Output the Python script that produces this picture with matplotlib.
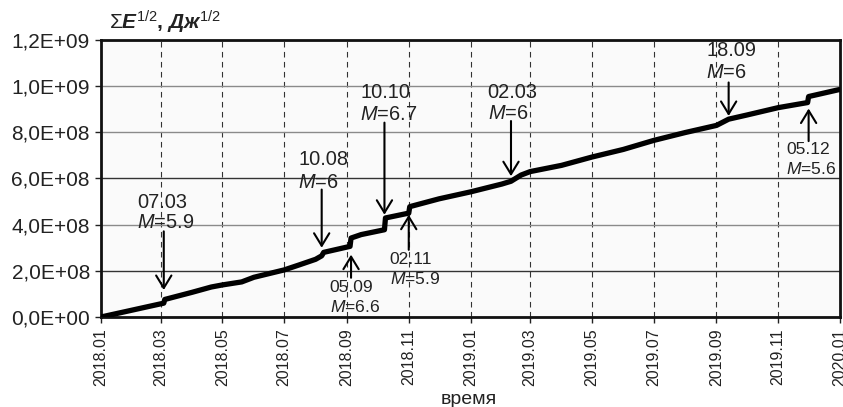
import numpy as np
import pandas as pd
import matplotlib
matplotlib.use("Agg")
import matplotlib.pyplot as plt
import matplotlib.dates as mdates
from matplotlib.ticker import FuncFormatter, MultipleLocator

plt.rcParams['font.family'] = ['Liberation Sans', 'DejaVu Sans']
plt.rcParams['mathtext.fontset'] = 'custom'
plt.rcParams['mathtext.rm'] = 'Liberation Sans'
plt.rcParams['mathtext.it'] = 'Liberation Sans:italic'
plt.rcParams['mathtext.bf'] = 'Liberation Sans:bold'
plt.rcParams['mathtext.bfit'] = 'Liberation Sans:bold:italic'

# накопленная энергия, Дж^1/2
dates = ["2018-01-01", "2018-02-01", "2018-03-04", "2018-03-05", "2018-04-01",
         "2018-04-20", "2018-05-01", "2018-05-20", "2018-06-01", "2018-07-01",
         "2018-07-16", "2018-08-01", "2018-08-07", "2018-08-09", "2018-09-04",
         "2018-09-05", "2018-09-15", "2018-10-08", "2018-10-09", "2018-11-01",
         "2018-11-02", "2018-12-01", "2019-01-01", "2019-02-01", "2019-02-10",
         "2019-02-20", "2019-03-01", "2019-04-01", "2019-05-01", "2019-06-01",
         "2019-07-01", "2019-08-01", "2019-09-01", "2019-09-13", "2019-10-01",
         "2019-11-01", "2019-11-30", "2019-12-01", "2019-12-31"]
energy = [0.0, 3.0e7, 6.0e7, 7.6e7, 1.07e8,
          1.30e8, 1.39e8, 1.52e8, 1.72e8, 2.04e8,
          2.26e8, 2.50e8, 2.65e8, 2.80e8, 3.06e8,
          3.42e8, 3.57e8, 3.78e8, 4.29e8, 4.50e8,
          4.78e8, 5.12e8, 5.42e8, 5.76e8, 5.88e8,
          6.15e8, 6.30e8, 6.57e8, 6.93e8, 7.26e8,
          7.65e8, 7.99e8, 8.30e8, 8.57e8, 8.75e8,
          9.07e8, 9.29e8, 9.55e8, 9.85e8]

# сильные землетрясения
eq_labels = ["07.03", "10.08", "05.09", "10.10", "02.11", "02.03", "18.09", "05.12"]
eq_mags = ["5.9", "6", "6.6", "6.7", "5.9", "6", "6", "5.6"]
eq_dates = ["2018-03-04", "2018-08-07", "2018-09-05", "2018-10-08",
            "2018-11-01", "2019-02-10", "2019-09-13", "2019-12-01"]

# оформление подписей: хвост и конец стрелки, левый край текста, две строки, размер шрифта
arrows = [(3.71e8, 1.17e8), (5.52e8, 3.0e8), (1.70e8, 2.70e8), (8.42e8, 4.43e8),
          (2.91e8, 4.43e8), (8.49e8, 6.10e8), (1.016e9, 8.71e8), (7.62e8, 9.03e8)]
text_pos = [("2018-02-06", 4.98e8, 4.09e8, 14.4), ("2018-07-15", 6.83e8, 5.81e8, 14.4),
            ("2018-08-15", 1.29e8, 0.42e8, 12.6), ("2018-09-14", 9.73e8, 8.78e8, 14.4),
            ("2018-10-13", 2.51e8, 1.64e8, 12.6), ("2019-01-18", 9.73e8, 8.81e8, 14.4),
            ("2019-08-22", 1.153e9, 1.06e9, 14.4), ("2019-11-09", 7.26e8, 6.42e8, 12.6)]

fig = plt.figure(figsize=(8.43, 4.07), dpi=100)
ax = fig.add_axes([101/843, 90/407, 739/843, 277/407])
ax.set_facecolor('#fafafa')

x = pd.to_datetime(dates)
ax.plot(x, energy, color='black', lw=3.8, solid_joinstyle='round',
        solid_capstyle='round', zorder=3)

for i in range(len(eq_labels)):
    d = pd.Timestamp(eq_dates[i])
    tail, head = arrows[i]
    ax.annotate('', xy=(d, head), xytext=(d, tail),
                arrowprops=dict(arrowstyle='->,head_length=0.9,head_width=0.55',
                                lw=1.5, color='black', shrinkA=0, shrinkB=0,
                                mutation_scale=10), zorder=4)
    tx, y1, y2, fs = text_pos[i]
    tx = pd.Timestamp(tx)
    ax.text(tx, y1, eq_labels[i], ha='left', va='center', fontsize=fs, color='#222222', zorder=5)
    ax.text(tx, y2, r'$M$=' + eq_mags[i], ha='left', va='center', fontsize=fs,
            color='#222222', zorder=5)

ax.set_xlim(pd.Timestamp("2018-01-01"), pd.Timestamp("2020-01-01"))
ax.set_ylim(0, 1.2e9)
ax.xaxis.set_major_locator(mdates.MonthLocator(bymonth=[1, 3, 5, 7, 9, 11]))
ax.xaxis.set_major_formatter(mdates.DateFormatter('%Y.%m'))
ax.yaxis.set_major_locator(MultipleLocator(2e8))
ax.yaxis.set_major_formatter(FuncFormatter(lambda v, p: f"{v:.1E}".replace('.', ',')))

ax.grid(axis='y', color='#8a8a8a', lw=1.0, ls='-')
ax.grid(axis='x', color='#333333', lw=0.8, ls=(0, (5, 4)))
ax.set_axisbelow(True)
# линии 2E+08 и 6E+08 темнее остальных
for gl, v in zip(ax.get_ygridlines(), ax.get_yticks()):
    if abs(v - 2e8) < 1 or abs(v - 6e8) < 1:
        gl.set_color('#333333')

for s in ax.spines.values():
    s.set_linewidth(2.0)
    s.set_color('#111111')

ax.tick_params(axis='y', length=4, width=1, pad=4, labelsize=15, colors='#222222')
ax.tick_params(axis='x', length=4, width=1, pad=4, labelsize=11.5, labelrotation=90,
               colors='#222222')

fig.text(165/843, 1 - 22/407,
         r'$\Sigma\mathbfit{E}^{\mathit{1/2}}\mathbf{,}\ \mathbfit{Дж}^{\mathit{1/2}}$',
         ha='center', va='center', fontsize=15, color='#222222')
fig.text(469/843, 1 - 399/407, 'время', ha='center', va='center', fontsize=14,
         color='#222222')

fig.savefig('out.png', dpi=100)
